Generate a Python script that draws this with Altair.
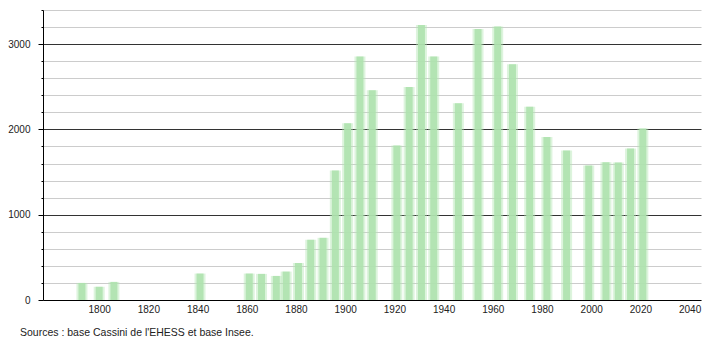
import altair as alt
import pandas as pd

years = [1793, 1800, 1806, 1841, 1861, 1866, 1872, 1876, 1881, 1886, 1891, 1896,
         1901, 1906, 1911, 1921, 1926, 1931, 1936, 1946, 1954, 1962, 1968, 1975,
         1982, 1990, 1999, 2006, 2011, 2016, 2021]
population = [200, 155, 212, 310, 310, 306, 282, 333, 435, 706, 729, 1518,
              2071, 2855, 2459, 1812, 2498, 3224, 2855, 2306, 3176, 3208, 2765, 2267,
              1910, 1753, 1576, 1616, 1612, 1776, 2012]
x_ticks = list(range(1800, 2041, 20))
y_ticks = list(range(0, 3401, 200))
source_text = "Sources : base Cassini de l'EHESS et base Insee."

df = pd.DataFrame({"year": years, "pop": population})

x_enc = alt.X("year:Q", scale=alt.Scale(domain=[1779.2, 2042.6], nice=False, zero=False),
              axis=alt.Axis(values=x_ticks, format="d", title=None, ticks=False,
                            labelPadding=4, grid=False, domainColor="#000",
                            labelColor="#222", labelFontSize=10, labelFont="Liberation Sans"))
y_enc = alt.Y("pop:Q", scale=alt.Scale(domain=[0, 3400], nice=False),
              axis=alt.Axis(values=y_ticks, format="d", title=None,
                            grid=True,
                            gridColor=alt.ExprRef(expr="datum.value % 1000 === 0 && datum.value > 0 ? '#333333' : '#cccccc'"),
                            gridWidth=1,
                            tickSize=alt.ExprRef(expr="datum.value % 1000 === 0 ? 5 : 2"),
                            tickColor="#000", domainColor="#000",
                            labelExpr="datum.value % 1000 === 0 ? datum.label : ''",
                            labelPadding=8, labelColor="#222", labelFontSize=10,
                            labelFont="Liberation Sans"))

base = alt.Chart(df).encode(x=x_enc, y=y_enc)
halo = base.mark_bar(width=11, color="#b4e6b4", opacity=0.45)
core = base.mark_bar(width=7, color="#aee2ae", opacity=0.9)

chart = alt.layer(halo, core).properties(
    width=658, height=290,
    title=alt.TitleParams(text=source_text, orient="bottom", anchor="start", frame="group",
                          fontSize=10.5, fontWeight="normal", font="Liberation Sans",
                          color="#222", dx=-23, offset=14),
).configure(
    autosize=alt.AutoSizeParams(type="none"),
    padding={"left": 43, "top": 10, "right": 9, "bottom": 40},
    background="white",
).configure_view(stroke=None)

chart.save("out.html", embed_options={"renderer": "svg", "actions": False})
